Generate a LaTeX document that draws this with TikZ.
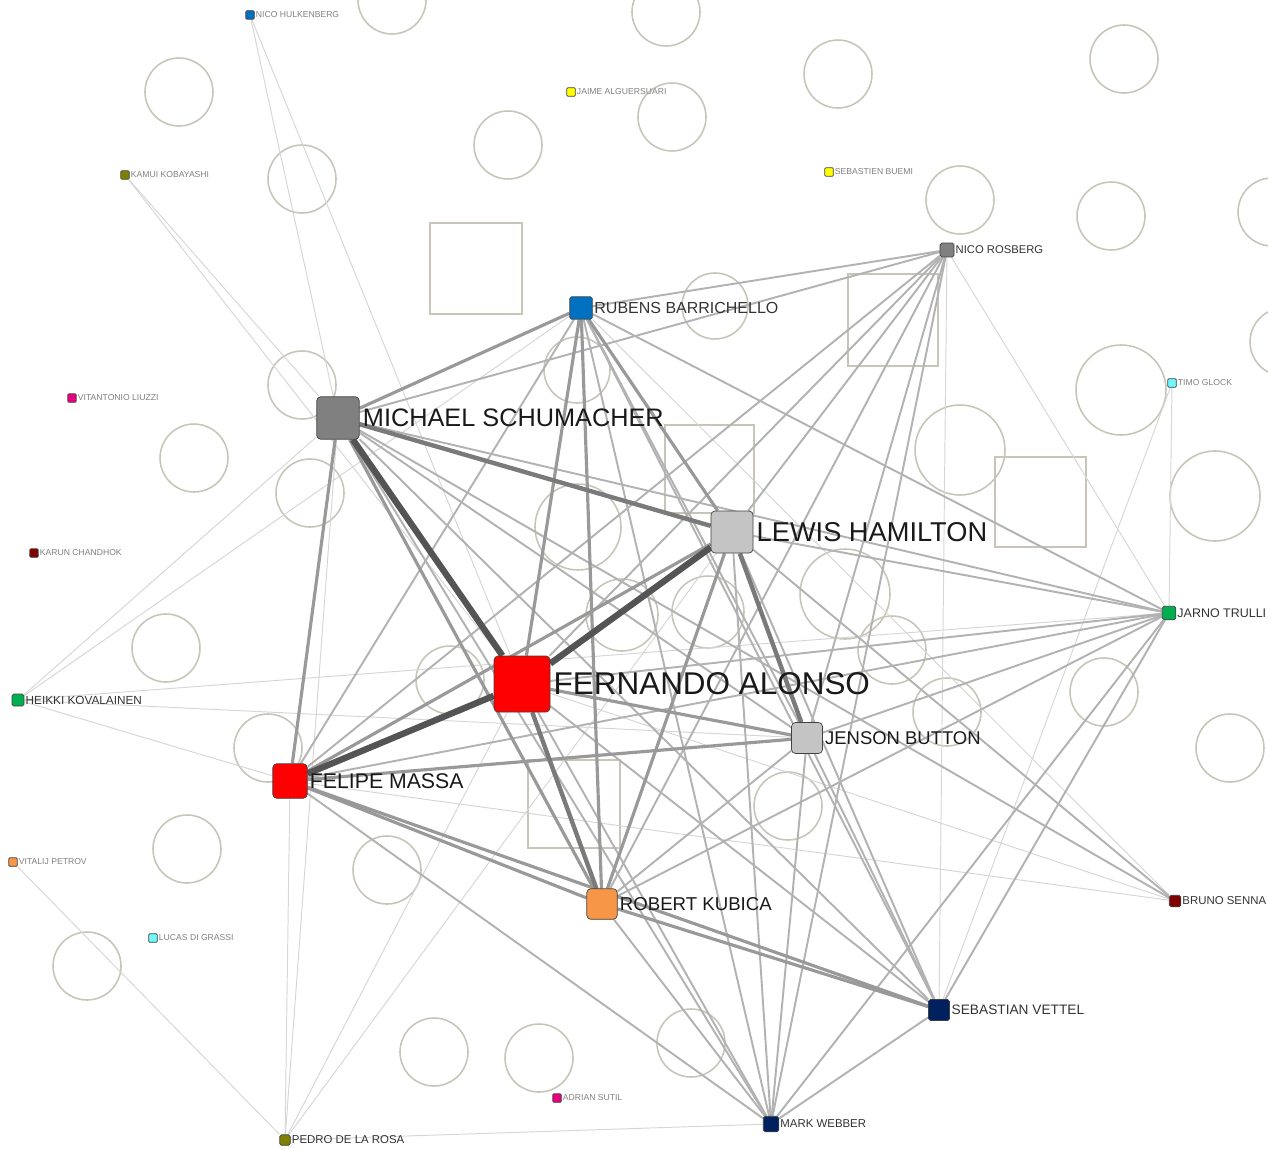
\documentclass[tikz,border=0pt]{standalone}
\usepackage{fontspec}
\setmainfont{Liberation Sans}
\usetikzlibrary{positioning,backgrounds}

\definecolor{redcar}{RGB}{255,0,0}
\definecolor{greycar}{RGB}{128,128,128}
\definecolor{silvercar}{RGB}{196,196,196}
\definecolor{orangecar}{RGB}{247,150,70}
\definecolor{bluecar}{RGB}{0,112,192}
\definecolor{navycar}{RGB}{0,32,96}
\definecolor{greencar}{RGB}{0,176,80}
\definecolor{cyancar}{RGB}{110,250,250}
\definecolor{marooncar}{RGB}{128,0,0}
\definecolor{olivecar}{RGB}{128,128,0}
\definecolor{yellowcar}{RGB}{255,255,0}
\definecolor{pinkcar}{RGB}{230,0,126}
\definecolor{ghost}{RGB}{200,196,184}

\begin{document}
\begin{tikzpicture}[x=0.02cm,y=-0.02cm,
	driver/.style={draw=black!75, line width=0.4pt, inner sep=0pt},
	bigbox/.style={minimum size=#1, rounded corners=0.08cm},
	smallbox/.style={minimum size=#1, rounded corners=0.035cm},
	tinybox/.style={minimum size=0.17cm, rounded corners=0.02cm},
	ghostline/.style={draw=ghost, line width=0.9pt},
	e1/.style={draw=black!16, line width=0.55pt},
	e2/.style={draw=black!30, line width=1.1pt},
	e3/.style={draw=black!40, line width=1.8pt},
	e4/.style={draw=black!52, line width=2.5pt},
	e5/.style={draw=black!67, line width=3.6pt},
	drivername/.style={inner sep=0pt, font=\fontsize{#1}{#1}\selectfont, text=black!90},
	tinyname/.style={inner sep=0pt, font=\fontsize{4.9}{5}\selectfont, text=black!50}
]
	\useasboundingbox (0,0) rectangle (1268,1149);

	% drivers
	\node[driver, bigbox=1.12cm, fill=redcar] (alonso) at (522,684) {} ;
	\node[driver, bigbox=0.85cm, fill=greycar] (schumacher) at (338,418) {} ;
	\node[driver, bigbox=0.84cm, fill=silvercar] (hamilton) at (732,532) {} ;
	\node[driver, bigbox=0.69cm, fill=redcar] (massa) at (290,781) {} ;
	\node[driver, bigbox=0.62cm, fill=silvercar] (button) at (807,738) {} ;
	\node[driver, bigbox=0.61cm, fill=orangecar] (kubica) at (602,904) {} ;
	\node[driver, smallbox=0.45cm, fill=bluecar] (rubens) at (581,308) {} ;
	\node[driver, smallbox=0.42cm, fill=navycar] (vettel) at (939,1010) {} ;
	\node[driver, smallbox=0.31cm, fill=navycar] (webber) at (771,1124) {} ;
	\node[driver, smallbox=0.28cm, fill=greycar] (rosberg) at (947,250) {} ;
	\node[driver, smallbox=0.27cm, fill=greencar] (trulli) at (1169,613) {} ;
	\node[driver, smallbox=0.24cm, fill=greencar] (kovalainen) at (18,700) {} ;
	\node[driver, smallbox=0.23cm, fill=marooncar] (senna) at (1175,901) {} ;
	\node[driver, smallbox=0.21cm, fill=olivecar] (delarosa) at (285,1140) {} ;

	\node[driver, tinybox, fill=bluecar] (hulkenberg) at (250,15) {} ;
	\node[driver, tinybox, fill=yellowcar] (alguersuari) at (571,92) {} ;
	\node[driver, tinybox, fill=olivecar] (kobayashi) at (125,175) {} ;
	\node[driver, tinybox, fill=yellowcar] (buemi) at (829,172) {} ;
	\node[driver, tinybox, fill=pinkcar] (liuzzi) at (72,398) {} ;
	\node[driver, tinybox, fill=cyancar] (glock) at (1172,383) {} ;
	\node[driver, tinybox, fill=marooncar] (chandhok) at (34,553) {} ;
	\node[driver, tinybox, fill=orangecar] (petrov) at (13,862) {} ;
	\node[driver, tinybox, fill=cyancar] (digrassi) at (153,938) {} ;
	\node[driver, tinybox, fill=pinkcar] (sutil) at (557,1098) {} ;

	% names
	\node[drivername=17.9, right=0.6mm of alonso] {FERNANDO ALONSO} ;
	\node[drivername=14.4, right=0.6mm of schumacher] {MICHAEL SCHUMACHER} ;
	\node[drivername=15.5, right=0.6mm of hamilton] {LEWIS HAMILTON} ;
	\node[drivername=12.1, right=0.4mm of massa] {FELIPE MASSA} ;
	\node[drivername=10.5, right=0.4mm of button] {JENSON BUTTON} ;
	\node[drivername=10.6, right=0.4mm of kubica] {ROBERT KUBICA} ;
	\node[drivername=9.1, right=0.3mm of rubens, text=black!80] {RUBENS BARRICHELLO} ;
	\node[drivername=7.8, right=0.3mm of vettel, text=black!80] {SEBASTIAN VETTEL} ;
	\node[drivername=6.5, right=0.2mm of webber, text=black!80] {MARK WEBBER} ;
	\node[drivername=6.4, right=0.2mm of rosberg, text=black!80] {NICO ROSBERG} ;
	\node[drivername=7.1, right=0.2mm of trulli, text=black!80] {JARNO TRULLI} ;
	\node[drivername=6.7, right=0.2mm of kovalainen, text=black!80] {HEIKKI KOVALAINEN} ;
	\node[drivername=6.5, right=0.2mm of senna, text=black!80] {BRUNO SENNA} ;
	\node[drivername=6.5, right=0.2mm of delarosa, text=black!80] {PEDRO DE LA ROSA} ;

	\node[tinyname, right=0.2mm of hulkenberg] {NICO HULKENBERG} ;
	\node[tinyname, right=0.2mm of alguersuari] {JAIME ALGUERSUARI} ;
	\node[tinyname, right=0.2mm of kobayashi] {KAMUI KOBAYASHI} ;
	\node[tinyname, right=0.2mm of buemi] {SEBASTIEN BUEMI} ;
	\node[tinyname, right=0.2mm of liuzzi] {VITANTONIO LIUZZI} ;
	\node[tinyname, right=0.2mm of glock] {TIMO GLOCK} ;
	\node[tinyname, right=0.2mm of chandhok] {KARUN CHANDHOK} ;
	\node[tinyname, right=0.2mm of petrov] {VITALIJ PETROV} ;
	\node[tinyname, right=0.2mm of digrassi] {LUCAS DI GRASSI} ;
	\node[tinyname, right=0.2mm of sutil] {ADRIAN SUTIL} ;

	\begin{scope}[on background layer]
	\clip (0,0) rectangle (1268,1149);

	% empty placeholders behind the graph
	\draw[ghostline] (392,0) circle (0.68cm);
	\draw[ghostline] (179,92) circle (0.68cm);
	\draw[ghostline] (302,179) circle (0.68cm);
	\draw[ghostline] (302,385) circle (0.68cm);
	\draw[ghostline] (666,12) circle (0.68cm);
	\draw[ghostline] (508,145) circle (0.68cm);
	\draw[ghostline] (672,117) circle (0.68cm);
	\draw[ghostline] (838,74) circle (0.68cm);
	\draw[ghostline] (960,200) circle (0.68cm);
	\draw[ghostline] (1124,59) circle (0.68cm);
	\draw[ghostline] (1111,216) circle (0.68cm);
	\draw[ghostline] (1272,212) circle (0.68cm);
	\draw[ghostline] (1121,390) circle (0.9cm);
	\draw[ghostline] (1284,342) circle (0.68cm);
	\draw[ghostline] (715,306) circle (0.66cm);
	\draw[ghostline] (577,370) circle (0.66cm);
	\draw[ghostline] (194,458) circle (0.68cm);
	\draw[ghostline] (310,493) circle (0.68cm);
	\draw[ghostline] (166,648) circle (0.68cm);
	\draw[ghostline] (268,748) circle (0.68cm);
	\draw[ghostline] (450,680) circle (0.68cm);
	\draw[ghostline] (578,527) circle (0.86cm);
	\draw[ghostline] (622,615) circle (0.72cm);
	\draw[ghostline] (708,612) circle (0.72cm);
	\draw[ghostline] (960,450) circle (0.9cm);
	\draw[ghostline] (845,594) circle (0.9cm);
	\draw[ghostline] (1215,496) circle (0.9cm);
	\draw[ghostline] (1104,692) circle (0.68cm);
	\draw[ghostline] (1230,748) circle (0.68cm);
	\draw[ghostline] (892,650) circle (0.68cm);
	\draw[ghostline] (947,712) circle (0.68cm);
	\draw[ghostline] (788,806) circle (0.68cm);
	\draw[ghostline] (187,849) circle (0.68cm);
	\draw[ghostline] (87,966) circle (0.68cm);
	\draw[ghostline] (387,870) circle (0.68cm);
	\draw[ghostline] (434,1052) circle (0.68cm);
	\draw[ghostline] (539,1058) circle (0.68cm);
	\draw[ghostline] (691,1043) circle (0.68cm);

	\draw[ghostline] (430,223) rectangle (522,314);
	\draw[ghostline] (848,274) rectangle (938,366);
	\draw[ghostline] (665,425) rectangle (754,513);
	\draw[ghostline] (995,457) rectangle (1086,547);
	\draw[ghostline] (528,760) rectangle (620,848);

	% faint links
	\draw[e1] (hulkenberg) -- (schumacher);
	\draw[e1] (hulkenberg) -- (alonso);
	\draw[e1] (kobayashi) -- (schumacher);
	\draw[e1] (kobayashi) -- (alonso);
	\draw[e1] (kovalainen) -- (schumacher);
	\draw[e1] (kovalainen) -- (rubens);
	\draw[e1] (kovalainen) -- (trulli);
	\draw[e1] (kovalainen) -- (button);
	\draw[e1] (kovalainen) -- (massa);
	\draw[e1] (delarosa) -- (schumacher);
	\draw[e1] (delarosa) -- (massa);
	\draw[e1] (delarosa) -- (alonso);
	\draw[e1] (delarosa) -- (hamilton);
	\draw[e1] (delarosa) -- (webber);
	\draw[e1] (delarosa) -- (petrov);
	\draw[e1] (glock) -- (trulli);
	\draw[e1] (glock) -- (vettel);
	\draw[e1] (rosberg) -- (trulli);
	\draw[e1] (rosberg) -- (vettel);
	\draw[e1] (massa) -- (senna);
	\draw[e1] (rubens) -- (senna);
	\draw[e1] (alonso) -- (senna);

	% light links
	\draw[e2] (rubens) -- (massa);
	\draw[e2] (rubens) -- (button);
	\draw[e2] (rubens) -- (vettel);
	\draw[e2] (rubens) -- (webber);
	\draw[e2] (rubens) -- (rosberg);
	\draw[e2] (rubens) -- (trulli);
	\draw[e2] (schumacher) -- (rosberg);
	\draw[e2] (schumacher) -- (button);
	\draw[e2] (schumacher) -- (vettel);
	\draw[e2] (schumacher) -- (webber);
	\draw[e2] (schumacher) -- (trulli);
	\draw[e2] (schumacher) -- (senna);
	\draw[e2] (alonso) -- (rosberg);
	\draw[e2] (alonso) -- (trulli);
	\draw[e2] (alonso) -- (vettel);
	\draw[e2] (alonso) -- (webber);
	\draw[e2] (hamilton) -- (rosberg);
	\draw[e2] (hamilton) -- (trulli);
	\draw[e2] (hamilton) -- (vettel);
	\draw[e2] (hamilton) -- (webber);
	\draw[e2] (hamilton) -- (senna);
	\draw[e2] (button) -- (rosberg);
	\draw[e2] (button) -- (trulli);
	\draw[e2] (button) -- (kubica);
	\draw[e2] (button) -- (vettel);
	\draw[e2] (button) -- (webber);
	\draw[e2] (kubica) -- (rosberg);
	\draw[e2] (kubica) -- (trulli);
	\draw[e2] (kubica) -- (webber);
	\draw[e2] (massa) -- (rosberg);
	\draw[e2] (massa) -- (webber);
	\draw[e2] (massa) -- (trulli);
	\draw[e2] (vettel) -- (webber);
	\draw[e2] (trulli) -- (webber);
	\draw[e2] (trulli) -- (vettel);
	\draw[e2] (rosberg) -- (webber);

	% medium links
	\draw[e3] (schumacher) -- (rubens);
	\draw[e3] (schumacher) -- (massa);
	\draw[e3] (schumacher) -- (kubica);
	\draw[e3] (rubens) -- (hamilton);
	\draw[e3] (rubens) -- (alonso);
	\draw[e3] (rubens) -- (kubica);
	\draw[e3] (massa) -- (kubica);
	\draw[e3] (massa) -- (vettel);
	\draw[e3] (massa) -- (button);
	\draw[e3] (massa) -- (hamilton);
	\draw[e3] (kubica) -- (vettel);
	\draw[e3] (alonso) -- (button);
	\draw[e3] (hamilton) -- (kubica);

	% strong links
	\draw[e4] (schumacher) -- (hamilton);
	\draw[e4] (hamilton) -- (button);
	\draw[e4] (alonso) -- (kubica);
	\draw[e5] (alonso) -- (schumacher);
	\draw[e5] (alonso) -- (massa);
	\draw[e5] (alonso) -- (hamilton);
	\end{scope}
\end{tikzpicture}
\end{document}
